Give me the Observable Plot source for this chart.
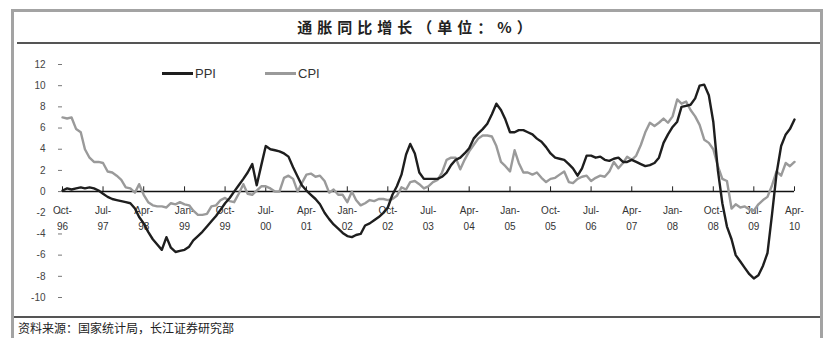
<!DOCTYPE html>
<html>
<head>
<meta charset="utf-8">
<script src="https://cdn.jsdelivr.net/npm/d3@7"></script>
<script src="https://cdn.jsdelivr.net/npm/@observablehq/plot@0.6"></script>
<style>
  html, body { margin: 0; padding: 0; background: #fff; }
  body { width: 825px; height: 338px; overflow: hidden; position: relative; font-family: "Liberation Sans", Arial, sans-serif; }
  #frame { position: absolute; left: 11px; top: 9px; width: 806px; height: 340px; border: 3px solid #a3a3a3; border-bottom: none; }
  #title { position: absolute; left: 14px; width: 806px; top: 16px; text-align: center; font-family: "Noto Sans CJK SC", sans-serif; font-size: 15px; font-weight: 700; letter-spacing: 5px; color: #222; }
  #rule1 { position: absolute; left: 17px; top: 42px; width: 803px; height: 2px; background: #555; }
  #rule2 { position: absolute; left: 14px; top: 316px; width: 806px; height: 2px; background: #555; }
  #source { position: absolute; left: 18px; top: 321px; font-family: "Noto Sans CJK SC", sans-serif; font-size: 12px; line-height: 14px; color: #222; white-space: nowrap; }
  #chart { position: absolute; left: 0; top: 45px; }
  .leg { position: absolute; top: 66px; font-size: 13px; color: #333; display: flex; align-items: center; }
  .leg span.sw { display: inline-block; width: 31px; height: 3px; margin-right: 2px; }
</style>
</head>
<body>
<div id="frame"></div>
<div id="title">通胀同比增长（单位：%）</div>
<div id="rule1"></div>
<div id="chart"></div>
<div class="leg" style="left:162px"><span class="sw" style="background:#1e1e1e"></span>PPI</div>
<div class="leg" style="left:265px"><span class="sw" style="background:#9a9a9a"></span>CPI</div>
<div id="rule2"></div>
<div id="source">资料来源：国家统计局，长江证券研究部</div>
<script>
// Monthly series, Oct-1996 .. Apr-2010 (year-on-year %)
const startYear = 1996, startMonth = 9; // October 1996 (0-based month)
const ppi = [
  0.1, 0.3, 0.2,
  0.3, 0.4, 0.3, 0.4, 0.3, 0.1, -0.2, -0.5, -0.7, -0.8, -0.9, -1.0,
  -1.1, -1.6, -2.4, -3.0, -3.8, -4.5, -5.0, -5.5, -4.3, -5.3, -5.7, -5.6,
  -5.5, -5.2, -4.6, -4.2, -3.8, -3.3, -2.8, -2.3, -1.7, -1.1, -0.6, 0.0,
  0.6, 1.2, 1.8, 2.6, 0.6, 2.5, 4.3, 4.0, 3.9, 3.8, 3.6, 3.3,
  2.3, 1.4, 0.6, 0.1, -0.3, -0.7, -1.2, -2.0, -2.6, -3.1, -3.5, -3.9,
  -4.2, -4.3, -4.1, -4.0, -3.2, -3.0, -2.7, -2.4, -2.0, -1.5, -0.3, 0.5,
  1.6, 3.5, 4.5, 3.6, 1.8, 1.2, 1.2, 1.2, 1.2, 1.4, 1.8, 2.5,
  3.0, 3.2, 3.6, 4.1, 5.0, 5.5, 5.9, 6.4, 7.3, 8.3, 7.7, 6.8,
  5.6, 5.6, 5.8, 5.8, 5.6, 5.4, 5.0, 4.7, 4.2, 3.6, 3.2, 3.1,
  3.0, 2.6, 2.2, 1.5, 2.2, 3.4, 3.4, 3.2, 3.3, 3.0, 2.9, 3.1,
  3.2, 2.8, 2.8, 3.0, 2.8, 2.6, 2.4, 2.5, 2.7, 3.2, 4.6, 5.4,
  6.1, 6.6, 8.0, 8.1, 8.2, 8.8, 10.0, 10.1, 9.1, 6.6, 2.0, -1.1,
  -3.3, -4.5, -6.0, -6.6, -7.2, -7.8, -8.2, -7.9, -7.0, -5.8, -2.1, 1.7,
  4.3, 5.4, 5.9, 6.8
];
const cpi = [
  7.0, 6.9, 7.0,
  5.9, 5.6, 4.0, 3.2, 2.8, 2.8, 2.7, 1.9, 1.8, 1.5, 1.1, 0.4,
  0.3, -0.1, 0.7, -0.3, -1.0, -1.3, -1.4, -1.4, -1.5, -1.1, -1.2, -1.0,
  -1.2, -1.3, -1.8, -2.2, -2.2, -2.1, -1.4, -1.3, -0.8, -0.6, -0.9, -1.0,
  -0.2, 0.7, -0.2, -0.3, 0.1, 0.5, 0.5, 0.3, 0.0, 0.0, 1.3, 1.5,
  1.2, 0.0, 0.8, 1.6, 1.7, 1.4, 1.5, 1.0, -0.1, 0.2, -0.3, -0.3,
  -1.0, 0.0, -0.8, -1.3, -1.1, -0.8, -0.9, -0.7, -0.7, -0.8, -0.7, -0.4,
  0.4, 0.2, 0.9, 1.0, 0.7, 0.3, 0.5, 0.9, 1.1, 1.8, 3.0, 3.2,
  3.2, 2.1, 3.0, 3.8, 4.4, 5.0, 5.3, 5.3, 5.2, 4.3, 2.8, 2.4,
  1.9, 3.9, 2.7, 1.8, 1.8, 1.6, 1.8, 1.3, 0.9, 1.2, 1.3, 1.6,
  1.9, 0.9, 0.8, 1.2, 1.4, 1.5, 1.0, 1.3, 1.5, 1.4, 1.9, 2.8,
  2.2, 2.7, 3.3, 3.0, 3.4, 4.4, 5.6, 6.5, 6.2, 6.5, 6.9, 6.5,
  7.1, 8.7, 8.3, 8.5, 7.7, 7.1, 6.3, 4.9, 4.6, 4.0, 2.4, 1.2,
  1.0, -1.6, -1.2, -1.5, -1.4, -1.7, -1.8, -1.2, -0.8, -0.5, 0.6, 1.9,
  1.5, 2.7, 2.4, 2.8
];
const xTickLabels = ["Oct-96","Jul-97","Apr-98","Jan-99","Oct-99","Jul-00","Apr-01","Jan-02","Oct-02","Jul-03",
  "Apr-04","Jan-05","Oct-05","Jul-06","Apr-07","Jan-08","Oct-08","Jul-09","Apr-10"];
const yTicks = [12, 10, 8, 6, 4, 2, 0, -2, -4, -6, -8, -10];

const monthNames = ["Jan","Feb","Mar","Apr","May","Jun","Jul","Aug","Sep","Oct","Nov","Dec"];
const monthDate = i => new Date(Date.UTC(startYear, startMonth + i, 1));
const rows = ppi.map((v, i) => ({date: monthDate(i), ppi: v, cpi: cpi[i]}));
const labelDate = s => {
  const [m, y] = s.split("-");
  const yy = +y < 50 ? 2000 + +y : 1900 + +y;
  return new Date(Date.UTC(yy, monthNames.indexOf(m), 1));
};
const ticks = xTickLabels.map(s => ({date: labelDate(s), text: s.replace("-", "-\n")}));

const chart = Plot.plot({
  width: 825,
  height: 271,
  marginLeft: 62,
  marginRight: 31,
  marginTop: 19,
  marginBottom: 19,
  x: {type: "utc", domain: [monthDate(0), monthDate(ppi.length - 1)], axis: null},
  y: {domain: [-10, 12], axis: null},
  style: {fontFamily: "'Liberation Sans', Arial, sans-serif", background: "transparent"},
  marks: [
    Plot.axisY({ticks: yTicks, tickSize: 4, tickPadding: 13, fontSize: 10, stroke: "#777", color: "#444", tickFormat: d => String(d), label: null}),
    Plot.ruleY([0], {stroke: "#111", strokeWidth: 1.5}),
    Plot.ruleX(ticks, {x: "date", y1: 0, y2: 0.45, stroke: "#222", strokeWidth: 1}),
    Plot.text(ticks, {x: "date", y: 0, text: "text", dy: 11, lineAnchor: "top", lineHeight: 1.6, fontSize: 10, fill: "#333"}),
    Plot.line(rows, {x: "date", y: "cpi", stroke: "#9a9a9a", strokeWidth: 2.4}),
    Plot.line(rows, {x: "date", y: "ppi", stroke: "#1e1e1e", strokeWidth: 2.4})
  ]
});
document.getElementById("chart").appendChild(chart);
</script>
</body>
</html>
